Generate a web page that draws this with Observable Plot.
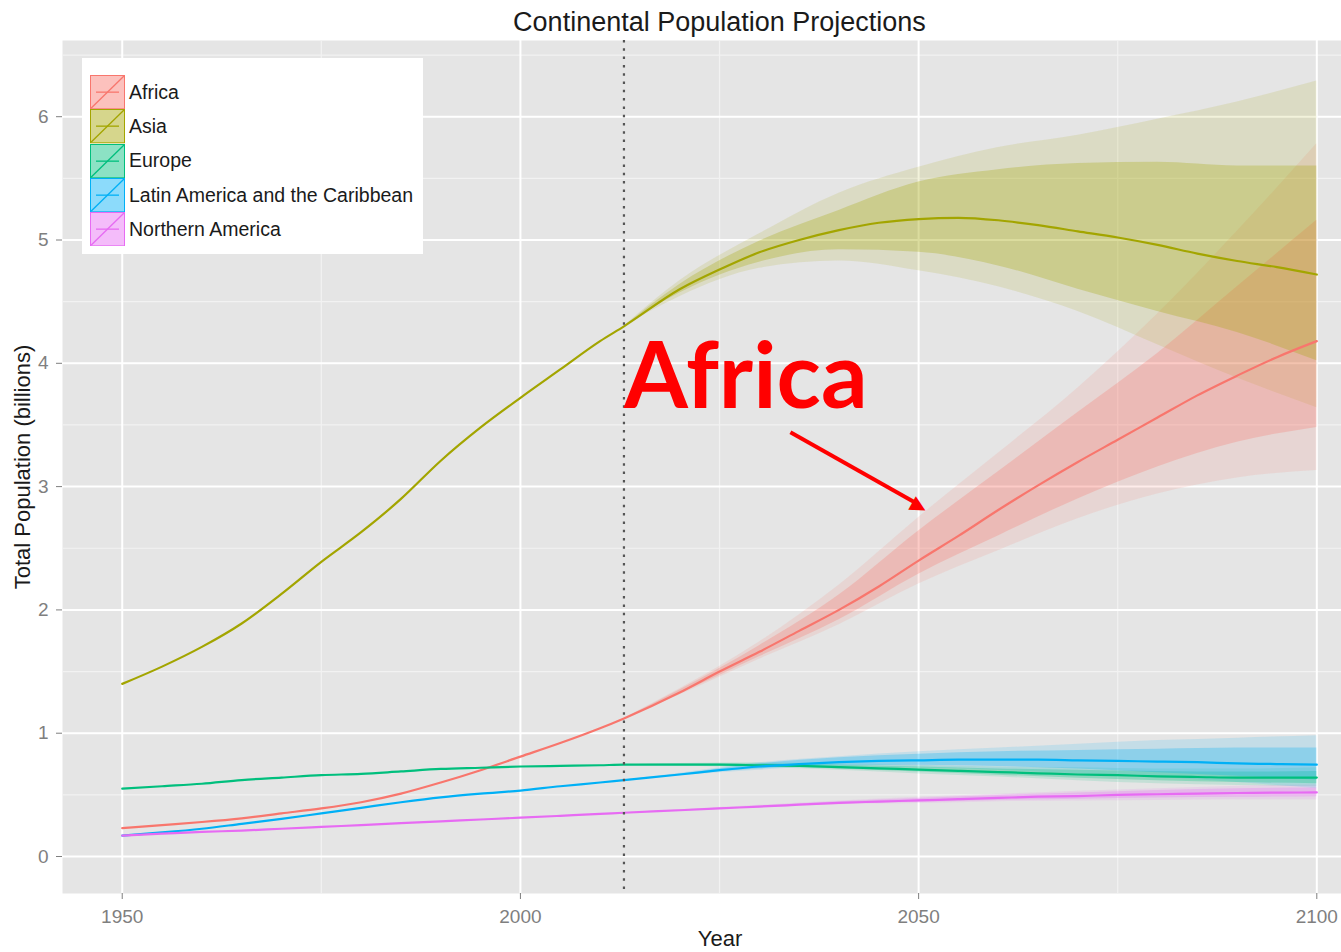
<!DOCTYPE html>
<html><head><meta charset="utf-8">
<script src="https://cdn.jsdelivr.net/npm/d3@7"></script>
<script src="https://cdn.jsdelivr.net/npm/@observablehq/plot@0.6"></script>
<style>
body{margin:0;background:#fff;font-family:"Liberation Sans",Arial,sans-serif;}
#wrap{position:relative;width:1341px;height:952px;overflow:hidden;background:#fff;}
#title{height:40px;line-height:44px;font-size:27px;color:#1a1a1a;text-align:center;padding-left:98px;white-space:nowrap;}
#chart svg{display:block;}
#legend{position:absolute;left:82px;top:58px;width:341px;height:196px;background:#fff;box-sizing:border-box;padding:17px 0 0 8px;}
.row{display:flex;align-items:center;height:34.3px;}
.row svg{display:block;margin-right:4px;flex:none;}
.row span{font-size:19.5px;color:#1a1a1a;white-space:nowrap;}
</style></head>
<body><div id="wrap"><div id="title">Continental Population Projections</div><div id="chart"></div><div id="legend"></div></div>
<script>
const continents = ["Africa","Asia","Europe","Latin America and the Caribbean","Northern America"];
const palette = ["#F8766D","#A3A500","#00BF7D","#00B0F6","#E76BF3"];

const years = [1950,1955,1960,1965,1970,1975,1980,1985,1990,1995,2000,2005,2010,2013,2020,2025,2030,2035,2040,2045,2050,2055,2060,2065,2070,2075,2080,2085,2090,2095,2100];
const africa  = [0.23,0.255,0.28,0.31,0.35,0.39,0.44,0.51,0.60,0.70,0.81,0.92,1.04,1.12,1.33,1.50,1.66,1.83,2.00,2.19,2.40,2.60,2.81,3.01,3.20,3.38,3.56,3.74,3.90,4.05,4.18];
const asia    = [1.40,1.54,1.70,1.89,2.13,2.39,2.63,2.90,3.21,3.48,3.72,3.95,4.18,4.30,4.60,4.76,4.90,5.00,5.08,5.14,5.17,5.18,5.16,5.12,5.07,5.02,4.96,4.89,4.83,4.78,4.72];
const europe  = [0.55,0.57,0.59,0.62,0.64,0.66,0.67,0.69,0.71,0.72,0.73,0.735,0.74,0.745,0.745,0.745,0.74,0.735,0.725,0.715,0.705,0.695,0.685,0.675,0.665,0.66,0.65,0.645,0.64,0.64,0.64];
const latam   = [0.17,0.195,0.225,0.265,0.305,0.35,0.395,0.44,0.48,0.51,0.535,0.57,0.60,0.62,0.665,0.70,0.73,0.75,0.765,0.775,0.78,0.785,0.785,0.785,0.78,0.775,0.77,0.765,0.755,0.75,0.745];
const northAm = [0.17,0.185,0.20,0.21,0.225,0.24,0.255,0.27,0.285,0.30,0.315,0.33,0.345,0.355,0.375,0.39,0.405,0.42,0.435,0.445,0.455,0.465,0.475,0.485,0.49,0.50,0.505,0.51,0.515,0.518,0.52];

const projYears = [2013,2020,2030,2040,2050,2060,2070,2080,2090,2100];
const africaLo95 = [1.12,1.31,1.60,1.88,2.21,2.48,2.74,2.94,3.07,3.13];
const africaLo80 = [1.12,1.32,1.62,1.92,2.29,2.60,2.90,3.16,3.36,3.48];
const africaHi80 = [1.12,1.35,1.71,2.12,2.64,3.12,3.60,4.08,4.62,5.16];
const africaHi95 = [1.12,1.36,1.74,2.20,2.75,3.27,3.80,4.40,5.07,5.78];
const asiaLo95 = [4.30,4.54,4.77,4.83,4.75,4.62,4.42,4.15,3.88,3.64];
const asiaLo80 = [4.30,4.57,4.82,4.92,4.90,4.79,4.60,4.42,4.25,4.02];
const asiaHi80 = [4.30,4.64,4.99,5.24,5.47,5.57,5.62,5.63,5.60,5.60];
const asiaHi95 = [4.30,4.67,5.05,5.38,5.59,5.75,5.85,5.98,6.12,6.29];
const europeLo95 = [0.745,0.735,0.72,0.70,0.67,0.645,0.615,0.59,0.575,0.565];
const europeLo80 = [0.745,0.74,0.73,0.71,0.685,0.66,0.635,0.615,0.60,0.59];
const europeHi80 = [0.745,0.75,0.75,0.74,0.725,0.71,0.70,0.69,0.685,0.69];
const europeHi95 = [0.745,0.755,0.76,0.75,0.74,0.725,0.72,0.71,0.71,0.72];
const latamLo95 = [0.62,0.655,0.70,0.73,0.72,0.70,0.67,0.64,0.60,0.55];
const latamLo80 = [0.62,0.66,0.71,0.74,0.74,0.73,0.71,0.68,0.65,0.62];
const latamHi80 = [0.62,0.67,0.75,0.80,0.83,0.85,0.86,0.87,0.88,0.88];
const latamHi95 = [0.62,0.675,0.76,0.81,0.85,0.88,0.91,0.94,0.96,0.98];
const northAmLo95 = [0.355,0.37,0.395,0.42,0.43,0.445,0.45,0.455,0.46,0.46];
const northAmLo80 = [0.355,0.373,0.40,0.425,0.44,0.455,0.465,0.475,0.48,0.485];
const northAmHi80 = [0.355,0.377,0.41,0.445,0.47,0.495,0.515,0.535,0.55,0.555];
const northAmHi95 = [0.355,0.38,0.415,0.45,0.48,0.505,0.53,0.55,0.57,0.58];

const xTicks = [1950,2000,2050,2100];
const xMinor = [1975,2025,2075];
const yTicks = [0,1,2,3,4,5,6];
const yMinor = [0.5,1.5,2.5,3.5,4.5,5.5,6.5];
const projectionStart = [2013];
const titles = {x:"Year", y:"Total Population (billions)"};
const annotationLabel = [{label:"Africa", year:2028.3, value:3.64}];
const annotationShaft = [{x1:2033.9, y1:3.44, x2:2049.6, y2:2.87}];
const annotationHead = [{glyph:"\u25B6", year:2050.1, value:2.845}];

const medians = [africa, asia, europe, latam, northAm];
const lo95 = [africaLo95, asiaLo95, europeLo95, latamLo95, northAmLo95];
const lo80 = [africaLo80, asiaLo80, europeLo80, latamLo80, northAmLo80];
const hi80 = [africaHi80, asiaHi80, europeHi80, latamHi80, northAmHi80];
const hi95 = [africaHi95, asiaHi95, europeHi95, latamHi95, northAmHi95];

const lineRows = continents.flatMap((c,i)=>years.map((yr,j)=>({continent:c, year:yr, value:medians[i][j]})));
const bandRows = continents.flatMap((c,i)=>projYears.map((yr,j)=>({continent:c, year:yr, lo95:lo95[i][j], lo80:lo80[i][j], hi80:hi80[i][j], hi95:hi95[i][j]})));

const chart = Plot.plot({
  width:1341, height:912,
  marginLeft:62, marginRight:0, marginTop:0, marginBottom:59,
  x:{domain:[1942.5,2103.1]},
  y:{domain:[-0.30,6.618]},
  color:{domain:continents, range:palette},
  style:{fontFamily:'"Liberation Sans", Arial, sans-serif', background:"transparent", overflow:"visible"},
  marks:[
    Plot.frame({fill:"#e5e5e5", stroke:null}),
    Plot.ruleX(xMinor,{stroke:"#f2f2f2", strokeWidth:1.2}),
    Plot.ruleY(yMinor,{stroke:"#f2f2f2", strokeWidth:1.2}),
    Plot.ruleX(xTicks,{stroke:"#ffffff", strokeWidth:2}),
    Plot.ruleY(yTicks,{stroke:"#ffffff", strokeWidth:2}),
    Plot.areaY(bandRows,{x:"year", y1:"lo95", y2:"hi95", fill:"continent", fillOpacity:0.14, curve:"monotone-x"}),
    Plot.areaY(bandRows,{x:"year", y1:"lo80", y2:"hi80", fill:"continent", fillOpacity:0.28, curve:"monotone-x"}),
    Plot.lineY(lineRows,{x:"year", y:"value", stroke:"continent", strokeWidth:2.2, curve:"monotone-x"}),
    Plot.ruleX(projectionStart,{stroke:"#555", strokeWidth:2.2, strokeDasharray:"2.5,5.8"}),
    Plot.axisX({ticks:xTicks, tickFormat:"d", tickSize:6, tickPadding:10, fontSize:19, color:"#7f7f7f", label:null}),
    Plot.axisY({ticks:yTicks, tickFormat:"d", tickSize:6, tickPadding:8, fontSize:19, color:"#7f7f7f", label:null}),
    Plot.text([titles.x],{text:d=>d, frameAnchor:"bottom", dy:52, dx:18, fontSize:22, fill:"#1a1a1a"}),
    Plot.text([titles.y],{text:d=>d, frameAnchor:"left", textAnchor:"middle", rotate:-90, dx:-40, fontSize:22, fill:"#1a1a1a"}),
    Plot.link(annotationShaft,{x1:"x1", y1:"y1", x2:"x2", y2:"y2", stroke:"#ff0000", strokeWidth:4}),
    Plot.text(annotationHead,{x:"year", y:"value", text:"glyph", rotate:29.4, fontSize:20, fontFamily:"DejaVu Sans", fill:"#ff0000", textAnchor:"middle", lineAnchor:"middle"}),
    Plot.text(annotationLabel,{x:"year", y:"value", text:"label", fontSize:92, fontWeight:"bold", fontFamily:"Lato", fill:"#ff0000", lineAnchor:"bottom", textAnchor:"middle"})
  ]
});
document.getElementById("chart").appendChild(chart);

const legend = document.getElementById("legend");
continents.forEach((c,i)=>{
  const row = document.createElement("div");
  row.className = "row";
  const col = palette[i];
  row.innerHTML = `<svg width="35" height="34.3" viewBox="0 0 35 34.3"><rect x="0.5" y="0.5" width="34" height="33.3" fill="${col}" fill-opacity="0.45" stroke="${col}" stroke-width="1"/><line x1="6" x2="29" y1="17.15" y2="17.15" stroke="${col}" stroke-width="1.3"/><line x1="1" y1="33.3" x2="34" y2="1" stroke="${col}" stroke-width="1.3"/></svg><span>${c}</span>`;
  legend.appendChild(row);
});
</script>
</body></html>
